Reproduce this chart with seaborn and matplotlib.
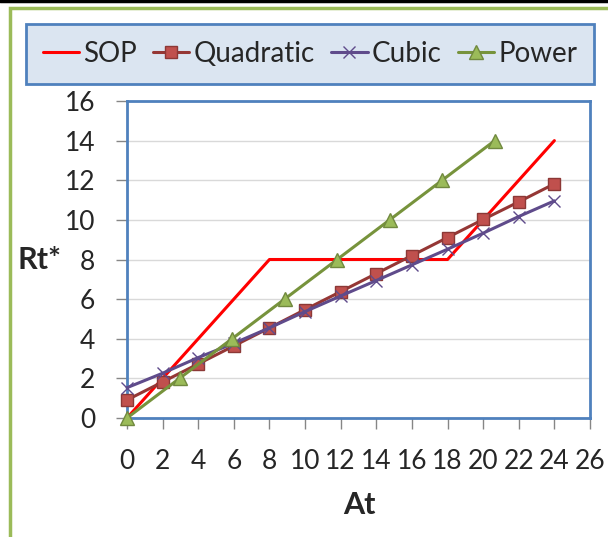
import matplotlib
matplotlib.use("Agg")
import matplotlib.pyplot as plt
import seaborn as sns
import pandas as pd
from matplotlib.patches import Rectangle
from matplotlib.lines import Line2D

# ---- data ----
sop_x = [0, 8, 18, 24]
sop_y = [0, 8, 8, 14]
quad_x = [0, 2, 4, 6, 8, 10, 12, 14, 16, 18, 20, 22, 24]
quad_y = [0.91, 1.82, 2.73, 3.64, 4.55, 5.47, 6.38, 7.29, 8.2, 9.11, 10.02, 10.91, 11.82]
cub_x = [0, 2, 4, 6, 8, 10, 12, 14, 16, 18, 20, 22, 24]
cub_y = [1.53, 2.26, 3.05, 3.77, 4.55, 5.37, 6.16, 6.94, 7.73, 8.52, 9.33, 10.17, 10.96]
pow_x = [0, 2.95, 5.9, 8.85, 11.8, 14.75, 17.7, 20.65]
pow_y = [0, 2, 4, 6, 8, 10, 12, 14]
xticks = list(range(0, 27, 2))
yticks = list(range(0, 17, 2))

sns.set_theme(style="white")
plt.rcParams['font.family'] = ['Lato', 'DejaVu Sans']

W, H = 608, 537
fig = plt.figure(figsize=(W / 100, H / 100), dpi=100)
ax = fig.add_axes([127 / W, 1 - 418 / H, (590 - 127) / W, (418 - 101) / H])

series = [
    ("SOP", sop_x, sop_y, dict(color="#ff0000", lw=2.2, marker=None)),
    ("Quadratic", quad_x, quad_y, dict(color="#953735", lw=2.2, marker="s", markersize=9,
                                       markerfacecolor="#c0504d", markeredgecolor="#8c3836", markeredgewidth=1)),
    ("Cubic", cub_x, cub_y, dict(color="#5f4b8b", lw=2.2, marker="x", markersize=8,
                                 markeredgecolor="#5f4b8b", markeredgewidth=1)),
    ("Power", pow_x, pow_y, dict(color="#77933c", lw=2.2, marker="^", markersize=10,
                                 markerfacecolor="#9bbb59", markeredgecolor="#71893f", markeredgewidth=1)),
]
for name, xs, ys, kw in series:
    df = pd.DataFrame({"x": xs, "y": ys})
    sns.lineplot(data=df, x="x", y="y", ax=ax, sort=False, label=name, clip_on=False, zorder=5, **kw)

ax.set_xlim(0, 26)
ax.set_ylim(0, 16)
ax.set_xticks(xticks)
ax.set_yticks(yticks)
ax.yaxis.grid(True, color="#d9d9d9", lw=1)
ax.xaxis.grid(False)
for s in ax.spines.values():
    s.set_color("#4f81bd")
    s.set_linewidth(2)
    s.set_visible(True)
ax.tick_params(axis="both", which="major", direction="out", length=8, width=1,
               color="#868686", labelsize=19, bottom=True, left=True)
ax.tick_params(axis="y", pad=15)
ax.tick_params(axis="x", pad=14)
ax.set_xlabel("At", fontsize=22, fontweight="bold")
ax.set_ylabel("Rt*", fontsize=22, fontweight="bold", rotation=0, va="center", ha="center")
ax.yaxis.set_label_coords((40 - 127) / 463, (418 - 260) / 317)
ax.xaxis.set_label_coords((359 - 127) / 463, -(491 - 418) / 317)

ax.get_legend().remove()
handles, labels = ax.get_legend_handles_labels()
leg = fig.legend(handles, labels, loc="center", ncol=4,
                 bbox_to_anchor=(310 / W, 1 - 54 / H), fontsize=20, frameon=True,
                 fancybox=False, handlelength=1.3, handletextpad=0.15, columnspacing=0.6,
                 borderpad=0.6)
frame = leg.get_frame()
frame.set_facecolor("#dbe5f1")
frame.set_edgecolor("#4f81bd")
frame.set_linewidth(2)
frame.set_alpha(1)

# outer green frame and black top line
fig.patches.append(Rectangle((10 / W, -0.1), 1.2, 1.1 - 8 / H, transform=fig.transFigure,
                             fill=False, edgecolor="#9bbb59", lw=2.5, zorder=0))
fig.lines.append(Line2D([0, 1], [1 - 1 / H, 1 - 1 / H], transform=fig.transFigure,
                        color="black", lw=2.5))

fig.savefig("out.png", dpi=100)
